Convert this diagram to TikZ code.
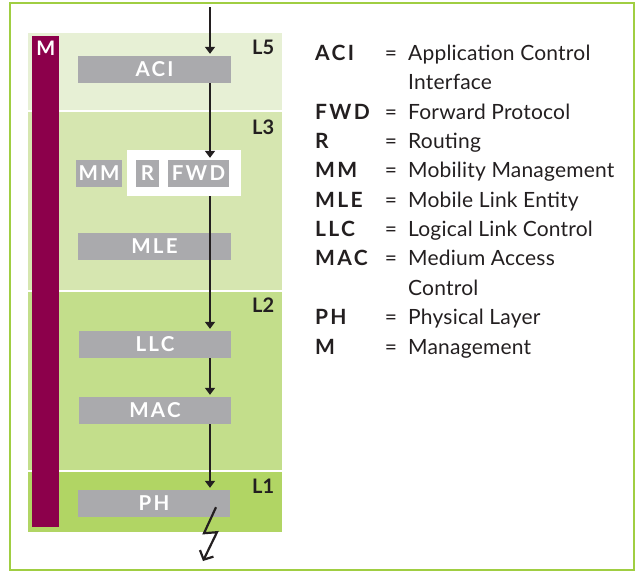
\documentclass[tikz,border=0pt]{standalone}
\usepackage{fontspec}
\setmainfont{Lato}
\newfontfamily\widefont[LetterSpace=11]{Lato}
\newfontfamily\airyfont[LetterSpace=1]{Lato}
\usetikzlibrary{arrows.meta, positioning, calc}
\definecolor{framegreen}{RGB}{160,206,66}
\definecolor{layerfive}{RGB}{231,240,213}
\definecolor{layerthree}{RGB}{214,230,176}
\definecolor{layertwo}{RGB}{195,222,139}
\definecolor{layerone}{RGB}{177,213,100}
\definecolor{mgmtred}{RGB}{140,0,75}
\definecolor{boxgray}{RGB}{170,170,173}
\definecolor{inkblack}{RGB}{35,31,32}

\begin{document}
\begin{tikzpicture}[x=1pt, y=-1pt,
    layer/.style={rectangle, fill=#1, minimum width=254pt, inner sep=0pt, anchor=north west},
    block/.style={rectangle, fill=boxgray, text=white, inner sep=0pt,
      minimum height=27pt, font=\widefont\fontsize{20.5}{20.5}\selectfont\bfseries},
    tag/.style={anchor=base east, text=inkblack, inner sep=0pt,
      font=\fontsize{20}{20}\selectfont\bfseries},
    abbr/.style={anchor=base west, text=inkblack, inner sep=0pt,
      font=\widefont\fontsize{21}{21}\selectfont\bfseries},
    legend/.style={anchor=base west, text=inkblack, inner sep=0pt,
      font=\airyfont\fontsize{21}{21}\selectfont},
    flow/.style={-{Triangle[width=10pt,length=7pt]}, line width=2pt, color=inkblack, shorten >=2pt},
    bolt/.style={-{Straight Barb[length=7pt,width=15pt]}, line width=2.2pt, color=inkblack}
  ]
  \useasboundingbox (0,0) rectangle (638,571);
  \draw[framegreen, line width=2pt] (10,3) rectangle (634,570);

  % --- layer bands ---
  \node[layer=layerfive,  minimum height=77pt]  (band5) at (28,33)  {};
  \node[layer=layerthree, minimum height=178pt] (band3) at (28,112) {};
  \node[layer=layertwo,   minimum height=178pt] (band2) at (28,292) {};
  \node[layer=layerone,   minimum height=60pt]  (band1) at (28,472) {};
  \node[tag] at ($(band5.north east)+(-8,21)$) {L5};
  \node[tag] at ($(band3.north east)+(-8,22)$) {L3};
  \node[tag] at ($(band2.north east)+(-8,20)$) {L2};
  \node[tag] at ($(band1.north east)+(-8,21)$) {L1};

  % --- management bar ---
  \node[rectangle, fill=mgmtred, anchor=north west, inner sep=0pt,
    minimum width=27pt, minimum height=491pt,
    label={[anchor=north, text=white, inner sep=0pt, yshift=-5pt,
      font=\fontsize{20}{20}\selectfont\bfseries]north:M}] (mgmt) at (32,36) {};

  % --- protocol blocks ---
  \node[block, minimum width=153pt] (aci) at (154.5,69.5) {ACI};
  \node[block, minimum width=46pt]  (mm)  at (99,173.5)   {MM};
  \node[rectangle, fill=white, minimum width=114pt, minimum height=46pt, inner sep=0pt]
    (fwdgroup) at (184,173) {};
  \node[block, minimum width=23pt]  (r)   at (147.5,173.5) {R};
  \node[block, minimum width=61pt]  (fwd) at (198.5,173.5) {FWD};
  \node[block, minimum width=153pt] (mle) at (154.5,246.5) {MLE};
  \node[block, minimum width=152pt] (llc) at (155,344.5)   {LLC};
  \node[block, minimum width=152pt] (mac) at (155,410.5)   {MAC};
  \node[block, minimum width=152pt] (ph)  at (154,503.5)   {PH};

  % --- data path ---
  \coordinate (feed) at (210,7);
  \coordinate (air) at (203,561);
  \draw[flow] (feed) -- (feed |- aci.north);
  \draw[flow] (feed |- aci.south) -- (feed |- fwd.north);
  \draw[flow] (feed |- fwdgroup.south) -- (feed |- llc.north);
  \draw[flow] (feed |- llc.south) -- (feed |- mac.north);
  \draw[flow] (feed |- mac.south) -- (feed |- ph.north);
  \draw[bolt] ($(feed |- ph.south)+(6,-10)$) -- ++(-12,26) -- ++(13,-1) -- (air);

  % --- legend ---
  \foreach \r/\ab in {0/ACI, 2/FWD, 3/R, 4/MM, 5/MLE, 6/LLC, 7/MAC, 9/PH, 10/M} {
    \node[abbr] (key\ab) at (315,{60.5+29.35*\r}) {\ab};
    \node[legend, anchor=base] (eq\ab) at (391,{60.5+29.35*\r}) {=};
  }
  \foreach \r/\desc in {0/Application Control, 1/Interface, 2/Forward Protocol,
      3/Routing, 4/Mobility Management, 5/Mobile Link Entity,
      6/Logical Link Control, 7/Medium Access, 8/Control,
      9/Physical Layer, 10/Management}
    \node[legend] (txt\r) at (408,{60.5+29.35*\r}) {\desc};
\end{tikzpicture}
\end{document}
